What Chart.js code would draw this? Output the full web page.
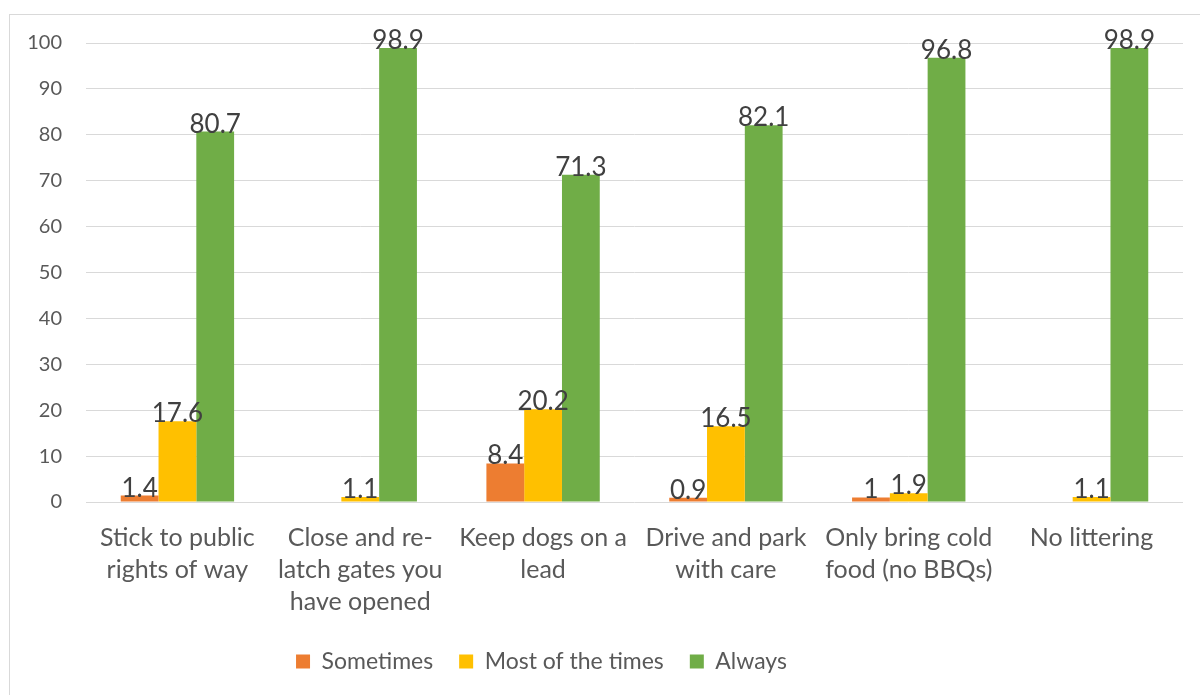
<!DOCTYPE html>
<html>
<head>
<script src="https://cdn.jsdelivr.net/npm/chart.js@4.4.0/dist/chart.umd.min.js"></script>
<title>Countryside Code</title>
<style>
  body { margin: 0; background: #fff; }
  #wrap { position: relative; width: 1200px; height: 695px; }
</style>
</head>
<body>
<div id="wrap"><canvas id="myChart" width="1200" height="695"></canvas></div>
<script>
// survey answers per countryside code rule (percent)
var categories = [
  ['Stick to public', 'rights of way'],
  ['Close and re-', 'latch gates you', 'have opened'],
  ['Keep dogs on a', 'lead'],
  ['Drive and park', 'with care'],
  ['Only bring cold', 'food (no BBQs)'],
  ['No littering']
];
var sometimes = [1.4, null, 8.4, 0.9, 1, null];
var mostOfTheTimes = [17.6, 1.1, 20.2, 16.5, 1.9, 1.1];
var always = [80.7, 98.9, 71.3, 82.1, 96.8, 98.9];
var yTicks = [0, 10, 20, 30, 40, 50, 60, 70, 80, 90, 100];

var FONT = 'Lato, "Open Sans", sans-serif';
var TEXT = '#595959';

// outer frame around the whole chart
var framePlugin = {
  id: 'frame',
  beforeDraw: function (chart) {
    var c = chart.ctx;
    c.save();
    c.fillStyle = '#fff';
    c.fillRect(0, 0, chart.width, chart.height);
    c.strokeStyle = '#d9d9d9';
    c.lineWidth = 1;
    c.strokeRect(9.5, 14.5, chart.width + 10, chart.height + 10);
    c.restore();
  },
  // legend sits a bit left of the canvas centre
  afterLayout: function (chart) {
    var lg = chart.legend;
    if (lg) { lg.left -= 50; lg.right -= 50; }
  }
};

// value labels sitting on top of each bar
var valueLabels = {
  id: 'valueLabels',
  afterDatasetsDraw: function (chart) {
    var c = chart.ctx;
    c.save();
    c.font = '26px ' + FONT;
    c.fillStyle = '#404040';
    c.textAlign = 'center';
    c.textBaseline = 'alphabetic';
    chart.data.datasets.forEach(function (ds, i) {
      chart.getDatasetMeta(i).data.forEach(function (bar, j) {
        var v = ds.data[j];
        if (v === null || v === undefined) return;
        c.fillText(String(v), bar.x, bar.y + 1);
      });
    });
    c.restore();
  }
};

var ctx = document.getElementById('myChart').getContext('2d');
var myChart = new Chart(ctx, {
  type: 'bar',
  data: {
    labels: categories,
    datasets: [
      { label: 'Sometimes', data: sometimes, backgroundColor: '#ED7D31' },
      { label: 'Most of the times', data: mostOfTheTimes, backgroundColor: '#FFC000' },
      { label: 'Always', data: always, backgroundColor: '#70AD47' }
    ]
  },
  options: {
    responsive: false,
    animation: false,
    layout: { padding: { top: 43, right: 17, left: 0, bottom: 12 } },
    datasets: { bar: { categoryPercentage: 0.62, barPercentage: 1.0 } },
    scales: {
      x: {
        afterFit: function (s) { s.height -= 6; },
        grid: { display: false },
        border: { display: false },
        ticks: {
          color: TEXT,
          font: { family: FONT, size: 25, lineHeight: 1.28 },
          padding: 12,
          maxRotation: 0,
          autoSkip: false
        }
      },
      y: {
        min: 0,
        max: 100,
        afterBuildTicks: function (s) {
          s.ticks = yTicks.map(function (v) { return { value: v }; });
        },
        afterFit: function (s) { s.width = 86; },
        grid: { color: '#d9d9d9', lineWidth: 1, drawTicks: false },
        border: { display: false },
        ticks: {
          color: TEXT,
          font: { family: FONT, size: 20 },
          padding: 24
        }
      }
    },
    plugins: {
      legend: {
        position: 'bottom',
        labels: {
          color: TEXT,
          font: { family: FONT, size: 23 },
          boxWidth: 14,
          boxHeight: 14,
          padding: 26
        }
      },
      tooltip: { enabled: false },
      title: { display: false }
    }
  },
  plugins: [framePlugin, valueLabels]
});
</script>
</body>
</html>
